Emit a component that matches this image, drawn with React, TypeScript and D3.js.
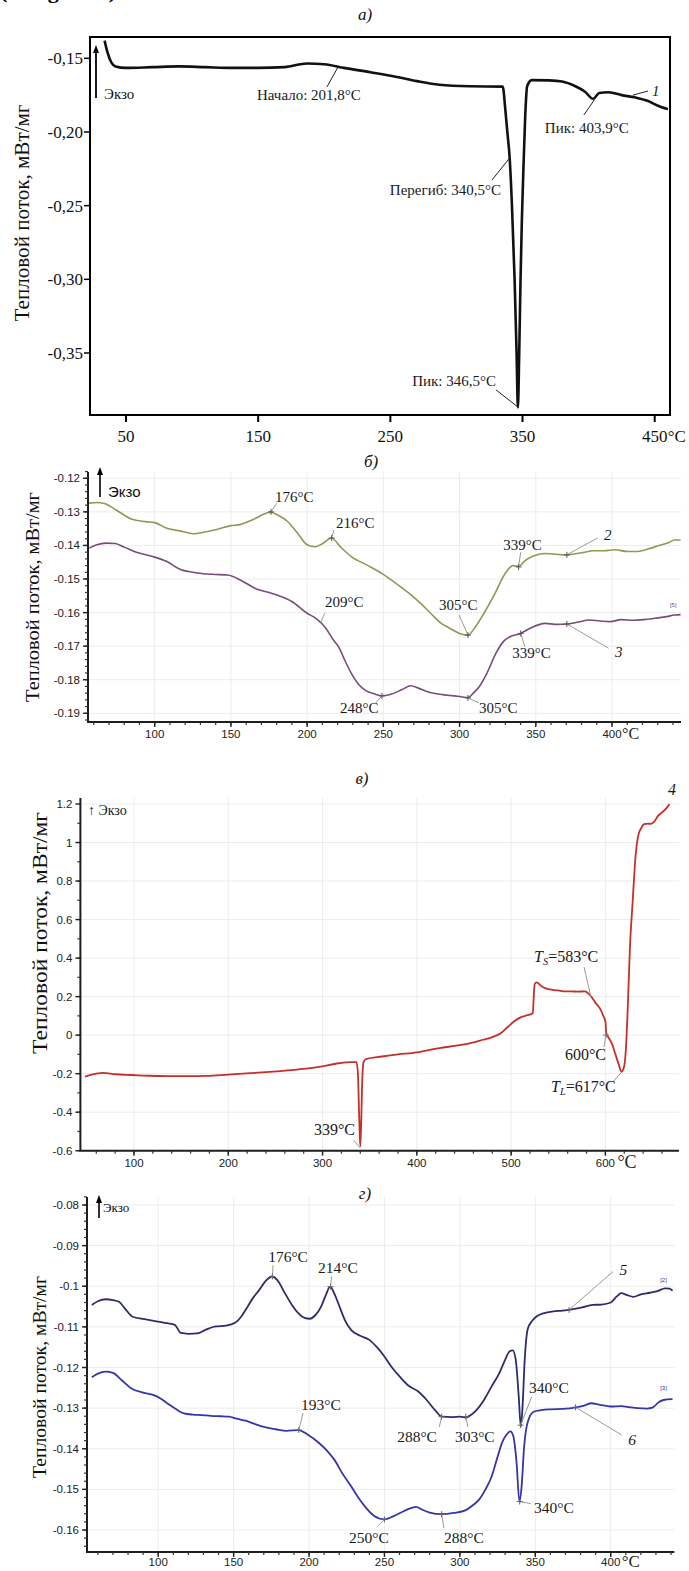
import React from 'react';
import * as d3 from 'd3';

type Pt = [number, number];
type Note = {
  text: string;
  pt: Pt;
  from?: Pt;
  label: Pt;
  anchor?: 'start' | 'end' | 'middle';
  italic?: boolean;
  cross?: boolean;
  sub?: string;
};

const SERIF = "'Liberation Serif','Times New Roman',serif";
const SANS = "'Liberation Sans',Arial,Helvetica,sans-serif";
const Y_TITLE = 'Тепловой поток, мВт/мг';

// ---- panel а) : curve 1 ----
const curve1: Pt[] = [
  [33.8, -0.138], [36, -0.146], [39, -0.153], [42, -0.1555], [50, -0.1565], [70, -0.156], [90, -0.1555],
  [110, -0.156], [130, -0.1565], [150, -0.1565], [170, -0.156], [187, -0.1535], [200, -0.154], [215, -0.1565],
  [235, -0.1595], [254, -0.1625], [270, -0.1655], [287, -0.168], [310, -0.169], [335, -0.1692], [337, -0.185],
  [338.5, -0.2], [340.3, -0.218], [342, -0.25], [344, -0.3], [345.5, -0.35], [346.5, -0.387], [347.5, -0.35],
  [348.5, -0.3], [349.5, -0.26], [350.5, -0.23], [352, -0.19], [353.5, -0.169], [357, -0.1648], [370, -0.165],
  [380, -0.1658], [390, -0.169], [397, -0.1725], [403.5, -0.1775], [408, -0.1735], [415, -0.173], [425, -0.175],
  [435, -0.1765], [445, -0.179], [452, -0.182], [460, -0.1845],
];
const ticksAx = [50, 150, 250, 350, 450];
const ticksAy = [-0.15, -0.2, -0.25, -0.3, -0.35];
const notesA: Note[] = [
  { text: 'Начало: 201,8°C', pt: [210.4, -0.1559], from: [202, -0.1695], label: [149.1, -0.1783] },
  { text: 'Перегиб: 340,5°C', pt: [340.2, -0.2177], from: [326.9, -0.2326], label: [333.7, -0.2428], anchor: 'end' },
  { text: 'Пик: 346,5°C', pt: [346.3, -0.3865], from: [329.9, -0.375], label: [329.9, -0.3724], anchor: 'end' },
  { text: 'Пик: 403,9°C', pt: [404.5, -0.178], from: [396.4, -0.1885], label: [366.9, -0.2007] },
  { text: '1', pt: [444.9, -0.1722], from: [433.5, -0.175], label: [447.9, -0.1757], italic: true },
];

// ---- panel б) : curves 2, 3 ----
const curve2: Pt[] = [
  [57, -0.1274], [62, -0.1272], [67, -0.1275], [75, -0.1295], [85, -0.1322], [94, -0.1329], [100, -0.1332],
  [108, -0.1349], [118, -0.1358], [125, -0.1365], [133, -0.136], [142, -0.1351], [150, -0.1341], [156, -0.1338],
  [165, -0.1322], [176, -0.1301], [181, -0.131], [187, -0.1328], [194, -0.1365], [200, -0.1398], [205, -0.1404],
  [210, -0.1395], [216, -0.1378], [222, -0.1405], [229, -0.1433], [240, -0.146], [249, -0.1483], [258, -0.1512],
  [267, -0.1543], [275, -0.1575], [281, -0.1602], [288, -0.1632], [293, -0.1645], [300, -0.1662], [305.5, -0.1667],
  [310, -0.1645], [316, -0.1602], [323, -0.1545], [330, -0.1483], [335, -0.146], [339, -0.1462], [343, -0.1445],
  [348, -0.1432], [356, -0.1424], [370, -0.1428], [380, -0.1422], [388, -0.1416], [395, -0.1416], [402, -0.1413],
  [410, -0.1418], [417, -0.1418], [424, -0.141], [431, -0.14], [437, -0.1392], [441, -0.1384], [445, -0.1384],
];
const curve3: Pt[] = [
  [57, -0.1408], [62, -0.1398], [68, -0.1393], [74, -0.1394], [80, -0.1405], [88, -0.142], [98, -0.1432],
  [108, -0.1448], [117, -0.1472], [128, -0.1482], [138, -0.1486], [148, -0.1488], [157, -0.1505], [166, -0.1528],
  [177, -0.1543], [190, -0.1567], [200, -0.1602], [206, -0.1618], [212, -0.1645], [217, -0.168], [221, -0.1705],
  [225, -0.1745], [229, -0.1781], [234, -0.1815], [238, -0.1831], [244, -0.1842], [249, -0.1848], [255, -0.1843],
  [262, -0.183], [268, -0.1818], [273, -0.1825], [279, -0.1836], [285, -0.1842], [292, -0.1846], [300, -0.185],
  [305.5, -0.1853], [309, -0.184], [313, -0.182], [318, -0.178], [324, -0.172], [329, -0.1685], [333, -0.1672],
  [340, -0.1662], [347, -0.1645], [356, -0.1632], [364, -0.1635], [371, -0.1634], [378, -0.1628], [385, -0.1622],
  [392, -0.1625], [399, -0.1627], [406, -0.1621], [414, -0.1623], [421, -0.1621], [428, -0.1617], [436, -0.1612],
  [441, -0.1607], [445, -0.1606],
];
const ticksBx = [100, 150, 200, 250, 300, 350, 400];
const ticksBy = [-0.12, -0.13, -0.14, -0.15, -0.16, -0.17, -0.18, -0.19];
const notesB: Note[] = [
  { text: '176°C', pt: [176.3, -0.13], from: [180.1, -0.1274], label: [178.9, -0.1271], cross: true },
  { text: '216°C', pt: [216.1, -0.1378], from: [217.6, -0.1354], label: [218.9, -0.1348], cross: true },
  { text: '209°C', pt: [208.9, -0.1628], from: [211.7, -0.1601], label: [211.7, -0.1583] },
  { text: '339°C', pt: [338.7, -0.1464], from: [340.1, -0.142], label: [328.6, -0.1414], cross: true },
  { text: '2', pt: [370.4, -0.1428], from: [390.5, -0.1378], label: [394.8, -0.1384], italic: true, cross: true },
  { text: '305°C', pt: [305.5, -0.1667], from: [299.6, -0.1607], label: [286.5, -0.1592], cross: true },
  { text: '339°C', pt: [340.1, -0.1662], from: [342.9, -0.1702], label: [334.5, -0.1735], cross: true },
  { text: '3', pt: [370.4, -0.1634], from: [397.7, -0.1706], label: [402, -0.1732], italic: true, cross: true },
  { text: '248°C', pt: [249.1, -0.1848], from: [245, -0.1869], label: [221.6, -0.1899], cross: true },
  { text: '305°C', pt: [305.5, -0.1854], from: [312.8, -0.1869], label: [312.8, -0.1899], cross: true },
];

// ---- panel в) : curve 4 ----
const curve4: Pt[] = [
  [48, -0.215], [55, -0.205], [67, -0.196], [80, -0.203], [98, -0.207], [115, -0.211], [135, -0.213], [160, -0.213],
  [177, -0.212], [200, -0.205], [219, -0.199], [240, -0.192], [261, -0.184], [280, -0.175], [298, -0.163],
  [317, -0.146], [330, -0.14], [336, -0.14], [337.5, -0.2], [339, -0.45], [340, -0.578], [341, -0.45], [342, -0.25],
  [343.5, -0.14], [346, -0.124], [363, -0.111], [380, -0.1], [400, -0.09], [410, -0.08], [424, -0.0675],
  [440, -0.056], [452, -0.047], [470, -0.024], [480, -0.01], [489, 0.01], [497, 0.045], [503, 0.071], [510, 0.092],
  [515, 0.1], [523, 0.114], [524, 0.2], [525, 0.265], [527, 0.274], [532, 0.255], [536, 0.244], [545, 0.234],
  [550, 0.232], [557, 0.227], [564, 0.227], [570, 0.226], [578, 0.227], [585, 0.2], [590, 0.165], [594, 0.14],
  [598, 0.097], [600, 0.07], [601, 0.01], [603, -0.01], [607, -0.045], [610, -0.09], [614, -0.15], [617, -0.19],
  [620, -0.16], [622, -0.05], [624, 0.18], [626, 0.45], [629, 0.7], [632, 0.93], [635, 1.04], [638, 1.075],
  [641, 1.095], [645, 1.098], [648, 1.097], [652, 1.11], [656, 1.14], [661, 1.16], [665, 1.18], [668, 1.2],
];
const ticksCx = [100, 200, 300, 400, 500, 600];
const ticksCy = [1.2, 1, 0.8, 0.6, 0.4, 0.2, 0, -0.2, -0.4, -0.6];
const notesC: Note[] = [
  { text: '339°C', pt: [339.5, -0.585], from: [333, -0.545], label: [290.9, -0.5186] },
  { text: '=583°C', sub: 'S', pt: [584.7, 0.198], from: [577.3, 0.3537], label: [524.3, 0.3796] },
  { text: '600°C', pt: [600.6, 0], from: [598.5, -0.0617], label: [557.1, -0.129], cross: true },
  { text: '=617°C', sub: 'L', pt: [617.3, -0.1915], from: [608, -0.243], label: [542.3, -0.2953] },
  { text: '4', pt: [666.4, 1.247], label: [666.4, 1.247], italic: true },
];

// ---- panel г) : curves 5, 6 ----
const curve5: Pt[] = [
  [56, -0.1046], [60, -0.1037], [65, -0.1032], [70, -0.1034], [74, -0.1038], [78, -0.1055], [83, -0.1075],
  [91, -0.1081], [100, -0.1087], [106, -0.1091], [111, -0.1095], [115, -0.1115], [120, -0.1117], [126, -0.1116],
  [131, -0.1108], [138, -0.1099], [145, -0.1097], [151, -0.109], [155, -0.1075], [158, -0.1058], [163, -0.1028],
  [167, -0.1009], [171, -0.0988], [175.5, -0.0976], [179, -0.0985], [184, -0.1017], [189, -0.1048], [193, -0.1067],
  [197, -0.1078], [200.5, -0.108], [204, -0.1072], [208, -0.105], [211, -0.1023], [214, -0.1001], [217, -0.102],
  [220, -0.1048], [224, -0.1085], [228, -0.1108], [234, -0.1122], [240, -0.1132], [245, -0.115], [249, -0.1168],
  [255, -0.12], [260, -0.1222], [266, -0.1245], [272, -0.1258], [278, -0.128], [284, -0.1307], [288, -0.1321],
  [295, -0.1322], [300, -0.1321], [304, -0.1323], [308, -0.1315], [311, -0.1305], [316, -0.128], [321, -0.1247],
  [326, -0.1215], [330, -0.1181], [333, -0.116], [335, -0.1158], [337, -0.118], [339, -0.127], [340.4, -0.1345],
  [341.5, -0.13], [343, -0.118], [345, -0.1105], [348, -0.1085], [351, -0.1074], [356, -0.1066], [362, -0.1062],
  [368, -0.106], [374, -0.1057], [381, -0.1052], [388, -0.1046], [394, -0.1045], [400, -0.104], [404, -0.1025],
  [407, -0.1017], [411, -0.1022], [415, -0.1026], [420, -0.102], [426, -0.1016], [431, -0.1012], [436, -0.1005],
  [439, -0.1006], [441, -0.1011],
];
const curve6: Pt[] = [
  [56, -0.1224], [60, -0.1215], [65, -0.121], [70, -0.1213], [76, -0.1232], [82, -0.1251], [90, -0.1262],
  [97, -0.1268], [101, -0.1275], [106, -0.1288], [112, -0.1303], [117, -0.1313], [123, -0.1316], [129, -0.1317],
  [135, -0.1319], [141, -0.132], [147, -0.1321], [152, -0.1326], [158, -0.1331], [164, -0.1339], [170, -0.1346],
  [178, -0.1352], [185, -0.1356], [193, -0.1354], [199, -0.1365], [207, -0.1387], [212, -0.1405], [217, -0.1428],
  [222, -0.146], [228, -0.1493], [233, -0.1522], [237, -0.1542], [243, -0.1565], [250, -0.1574], [256, -0.1566],
  [261, -0.1557], [266, -0.1548], [271, -0.1543], [275, -0.155], [280, -0.1557], [288, -0.1561], [296, -0.1558],
  [304, -0.1551], [309, -0.1538], [313, -0.1524], [317, -0.15], [321, -0.1469], [325, -0.142], [328, -0.1385],
  [331, -0.1365], [333.5, -0.1357], [335.5, -0.137], [337.5, -0.143], [339.5, -0.153], [341, -0.149], [342.5, -0.14],
  [345, -0.1334], [349, -0.1309], [354, -0.1305], [360, -0.1303], [368, -0.1302], [377, -0.1298], [383, -0.1293],
  [387, -0.1288], [393, -0.1292], [400, -0.1296], [407, -0.1295], [413, -0.1298], [418, -0.13], [424, -0.1301],
  [428, -0.1298], [432, -0.1285], [435, -0.128], [441, -0.1278],
];
const ticksDx = [100, 150, 200, 250, 300, 350, 400];
const ticksDy = [-0.08, -0.09, -0.1, -0.11, -0.12, -0.13, -0.14, -0.15, -0.16];
const notesD: Note[] = [
  { text: '176°C', pt: [175.7, -0.0976], from: [176.1, -0.0948], label: [172.9, -0.094], cross: true },
  { text: '214°C', pt: [214.2, -0.1001], from: [215, -0.0976], label: [206, -0.0967], cross: true },
  { text: '5', pt: [372.4, -0.1058], from: [401.5, -0.0964], label: [405.8, -0.0972], italic: true, cross: true },
  { text: '340°C', pt: [340.3, -0.1342], from: [347.6, -0.1272], label: [345.8, -0.1263], cross: true },
  { text: '193°C', pt: [193.2, -0.1354], from: [196, -0.1312], label: [194.7, -0.1305], cross: true },
  { text: '288°C', pt: [287.9, -0.1321], from: [286.4, -0.1346], label: [284.8, -0.1383], anchor: 'end', cross: true },
  { text: '303°C', pt: [303.9, -0.1321], from: [305.3, -0.1346], label: [296.7, -0.1383], cross: true },
  { text: '6', pt: [376.7, -0.1298], from: [407.3, -0.1366], label: [411.7, -0.1391], italic: true, cross: true },
  { text: '340°C', pt: [339.7, -0.153], from: [347, -0.1535], label: [349.2, -0.1558], cross: true },
  { text: '250°C', pt: [250, -0.1574], from: [245.7, -0.159], label: [226.5, -0.1632], cross: true },
  { text: '288°C', pt: [287.9, -0.1561], from: [289.4, -0.1595], label: [289.5, -0.1632], cross: true },
];

const fmtDot = (v: number) => String(+v.toFixed(2));
const fmtDot2 = (v: number) => v.toFixed(2);
const fmtComma = (v: number) => v.toFixed(2).replace('.', ',');

type Scale = d3.ScaleLinear<number, number>;

function Curve({ data, x, y, color, width }: { data: Pt[]; x: Scale; y: Scale; color: string; width: number }) {
  const line = d3.line<Pt>().x(d => x(d[0])).y(d => y(d[1])).curve(d3.curveMonotoneX);
  return <path d={line(data) || ''} fill="none" stroke={color} strokeWidth={width} strokeLinejoin="round" />;
}

function Notes({ notes, x, y, size, lead, crossColor }: {
  notes: Note[]; x: Scale; y: Scale; size: number; lead: string; crossColor?: string;
}) {
  return (
    <g fontFamily={SERIF} fontSize={size} fill="#1a1a1a">
      {notes.map((n, i) => {
        const px = x(n.pt[0]);
        const py = y(n.pt[1]);
        return (
          <g key={i}>
            {n.from && <line x1={x(n.from[0])} y1={y(n.from[1])} x2={px} y2={py} stroke={lead} strokeWidth={1} />}
            {n.cross && crossColor && (
              <path d={`M${px - 3},${py}h6M${px},${py - 3}v6`} stroke={crossColor} strokeWidth={1} />
            )}
            <text x={x(n.label[0])} y={y(n.label[1])} textAnchor={n.anchor || 'start'}
              fontStyle={n.italic ? 'italic' : 'normal'}>
              {n.sub ? (
                <>
                  <tspan fontStyle="italic">T</tspan>
                  <tspan fontStyle="italic" fontSize={size * 0.65} dy={3}>{n.sub}</tspan>
                  <tspan dy={-3}>{n.text}</tspan>
                </>
              ) : n.text}
            </text>
          </g>
        );
      })}
    </g>
  );
}

function Exo({ x, y0, y1, size, font, tx, ty, w = 1.6 }: {
  x: number; y0: number; y1: number; size: number; font: string; tx: number; ty: number; w?: number;
}) {
  return (
    <g>
      <line x1={x} y1={y0} x2={x} y2={y1 + 6} stroke="#000" strokeWidth={w} />
      <path d={`M${x - 3},${y1 + 8}L${x},${y1}L${x + 3},${y1 + 8}Z`} fill="#000" />
      <text x={tx} y={ty} fontFamily={font} fontSize={size} fill="#111">Экзо</text>
    </g>
  );
}

function YTitle({ cx, cy, len, size }: { cx: number; cy: number; len: number; size: number }) {
  return (
    <text transform={`translate(${cx},${cy}) rotate(-90)`} textAnchor="middle" dominantBaseline="middle"
      fontFamily={SERIF} fontSize={size} fill="#111" textLength={len} lengthAdjust="spacingAndGlyphs">
      {Y_TITLE}
    </text>
  );
}

function PanelTitle({ x, y, t }: { x: number; y: number; t: string }) {
  return <text x={x} y={y} textAnchor="middle" fontFamily={SERIF} fontStyle="italic" fontSize={17} fill="#111">{t}</text>;
}

type Box = { l: number; r: number; t: number; b: number };

function GridAxes({ x, y, box, xt, yt, xMinor, yMinor, fmt, unitTick, unitSize, unitGap, labelGap = 16 }: {
  x: Scale; y: Scale; box: Box; xt: number[]; yt: number[]; xMinor: number[]; yMinor: number[];
  fmt: (v: number) => string; unitTick: number; unitSize: number; unitGap: number; labelGap?: number;
}) {
  return (
    <g>
      {xt.map(v => <line key={'gx' + v} x1={x(v)} x2={x(v)} y1={box.t} y2={box.b} stroke="#ececec" strokeWidth={1} />)}
      {yt.map(v => <line key={'gy' + v} x1={box.l} x2={box.r} y1={y(v)} y2={y(v)} stroke="#ececec" strokeWidth={1} />)}
      <line x1={box.l} x2={box.l} y1={box.t} y2={box.b} stroke="#1e1e1e" strokeWidth={2} />
      <line x1={box.l - 1} x2={box.r} y1={box.b} y2={box.b} stroke="#1e1e1e" strokeWidth={2} />
      {xMinor.map(v => <line key={'mx' + v} x1={x(v)} x2={x(v)} y1={box.b} y2={box.b + 3} stroke="#333" strokeWidth={1.2} />)}
      {yMinor.map(v => <line key={'my' + v} x1={box.l - 3} x2={box.l} y1={y(v)} y2={y(v)} stroke="#333" strokeWidth={1.2} />)}
      {xt.map(v => <line key={'tx' + v} x1={x(v)} x2={x(v)} y1={box.b} y2={box.b + 5} stroke="#222" strokeWidth={1.4} />)}
      {yt.map(v => <line key={'ty' + v} x1={box.l - 5} x2={box.l} y1={y(v)} y2={y(v)} stroke="#222" strokeWidth={1.4} />)}
      <g fontFamily={SANS} fontSize={11.5} fill="#222">
        {xt.map(v => <text key={'lx' + v} x={x(v)} y={box.b + labelGap} textAnchor="middle">{v}</text>)}
        {yt.map(v => <text key={'ly' + v} x={box.l - 8} y={y(v)} dy="0.35em" textAnchor="end">{fmt(v)}</text>)}
      </g>
      <text x={x(unitTick) + unitGap} y={box.b + labelGap + 1} fontFamily={SERIF} fontSize={unitSize} fill="#222">°C</text>
    </g>
  );
}

function PanelA() {
  const x = d3.scaleLinear().domain([50, 450]).range([126, 654.7]);
  const y = d3.scaleLinear().domain([-0.15, -0.35]).range([58.3, 353]);
  const box: Box = { l: 90, r: 670, t: 37, b: 415 };
  return (
    <g>
      <PanelTitle x={365} y={20} t="а)" />
      <defs>
        <clipPath id="clipA"><rect x={box.l} y={box.t} width={box.r - box.l} height={box.b - box.t} /></clipPath>
      </defs>
      <g clipPath="url(#clipA)">
        <Curve data={curve1} x={x} y={y} color="#111" width={2.6} />
      </g>
      <rect x={box.l} y={box.t} width={box.r - box.l} height={box.b - box.t} fill="none" stroke="#000" strokeWidth={2} />
      {ticksAy.map(v => <line key={v} x1={box.l - 6} x2={box.l} y1={y(v)} y2={y(v)} stroke="#000" strokeWidth={1.5} />)}
      {ticksAx.map(v => <line key={v} x1={x(v)} x2={x(v)} y1={box.b} y2={box.b + 7} stroke="#000" strokeWidth={2} />)}
      <g fontFamily={SERIF} fontSize={17} fill="#111">
        {ticksAy.map(v => <text key={v} x={box.l - 7} y={y(v)} dy="0.35em" textAnchor="end">{fmtComma(v)}</text>)}
        {ticksAx.map(v => <text key={v} x={x(v)} y={box.b + 27} textAnchor="middle">{v}</text>)}
        <text x={x(450) + 13} y={box.b + 27}>°C</text>
      </g>
      <YTitle cx={24} cy={213} len={217} size={20} />
      <Exo x={96} y0={98} y1={45} size={15} font={SERIF} tx={104} ty={99} w={1.8} />
      <Notes notes={notesA} x={x} y={y} size={15} lead="#222" />
    </g>
  );
}

function PanelB() {
  const x = d3.scaleLinear().domain([100, 400]).range([154.7, 612]);
  const y = d3.scaleLinear().domain([-0.12, -0.19]).range([478.3, 713.3]);
  const box: Box = { l: 88, r: 681, t: 472, b: 722 };
  const xMinor = d3.range(60, 445, 10);
  const yMinor = d3.range(-0.118, -0.1925, -0.002);
  return (
    <g>
      <PanelTitle x={371} y={467} t="б)" />
      <GridAxes x={x} y={y} box={box} xt={ticksBx} yt={ticksBy} xMinor={xMinor} yMinor={yMinor}
        fmt={fmtDot2} unitTick={400} unitSize={16} unitGap={10} />
      <Curve data={curve2} x={x} y={y} color="#8c9a52" width={1.6} />
      <Curve data={curve3} x={x} y={y} color="#7a4b7c" width={1.6} />
      <text x={x(438)} y={y(-0.1583)} fontFamily={SANS} fontSize={6} fill="#7a4b7c">[5]</text>
      <YTitle cx={35} cy={597} len={210} size={19} />
      <Exo x={100} y0={497} y1={467} size={15} font={SANS} tx={108} ty={497} />
      <Notes notes={notesB} x={x} y={y} size={15} lead="#9a9a9a" crossColor="#555" />
    </g>
  );
}

function PanelC() {
  const x = d3.scaleLinear().domain([100, 600]).range([134, 605.4]);
  const y = d3.scaleLinear().domain([1.2, -0.6]).range([804, 1150.7]);
  const box: Box = { l: 80.4, r: 679, t: 798, b: 1150.7 };
  const xMinor = d3.range(60, 680, 20);
  const yMinor = d3.range(1.1, -0.65, -0.1);
  return (
    <g>
      <PanelTitle x={362} y={784} t="в)" />
      <GridAxes x={x} y={y} box={box} xt={ticksCx} yt={ticksCy} xMinor={xMinor} yMinor={yMinor}
        fmt={fmtDot} unitTick={600} unitSize={18} unitGap={12} />
      <Curve data={curve4} x={x} y={y} color="#c4302b" width={1.8} />
      <YTitle cx={42} cy={933} len={242} size={21} />
      <text x={88} y={815} fontFamily={SERIF} fontSize={14} fill="#222">↑ Экзо</text>
      <Notes notes={notesC} x={x} y={y} size={16} lead="#9a9a9a" crossColor="#777" />
    </g>
  );
}

function PanelD() {
  const x = d3.scaleLinear().domain([100, 400]).range([158.2, 610.7]);
  const y = d3.scaleLinear().domain([-0.08, -0.16]).range([1205, 1530]);
  const box: Box = { l: 87, r: 674.4, t: 1197, b: 1552 };
  const xMinor = d3.range(60, 442, 10);
  const yMinor = d3.range(-0.078, -0.1655, -0.002);
  return (
    <g>
      <PanelTitle x={365} y={1199} t="г)" />
      <GridAxes x={x} y={y} box={box} xt={ticksDx} yt={ticksDy} xMinor={xMinor} yMinor={yMinor}
        fmt={fmtDot} unitTick={400} unitSize={17} unitGap={11} labelGap={14} />
      <Curve data={curve5} x={x} y={y} color="#2c2e6c" width={1.8} />
      <Curve data={curve6} x={x} y={y} color="#3636a6" width={1.8} />
      <text x={x(432.8)} y={y(-0.0989)} fontFamily={SANS} fontSize={6} fill="#3636a6">[2]</text>
      <text x={x(432.8)} y={y(-0.1255)} fontFamily={SANS} fontSize={6} fill="#3636a6">[3]</text>
      <YTitle cx={42} cy={1377} len={202} size={19} />
      <Exo x={99} y0={1218} y1={1195} size={13} font={SERIF} tx={103} ty={1212} />
      <Notes notes={notesD} x={x} y={y} size={15.5} lead="#9a9a9a" crossColor="#666" />
    </g>
  );
}

export default function App() {
  return (
    <svg width={689} height={1571} viewBox="0 0 689 1571"
      style={{ position: 'absolute', left: 0, top: 0, background: '#fff', display: 'block' }}>
      <rect width={689} height={1571} fill="#fff" />
      <text x={0} y={-2} fontFamily={SERIF} fontSize={22} fontWeight="bold" textLength={116}>(Fig. 3)</text>
      <PanelA />
      <PanelB />
      <PanelC />
      <PanelD />
    </svg>
  );
}
